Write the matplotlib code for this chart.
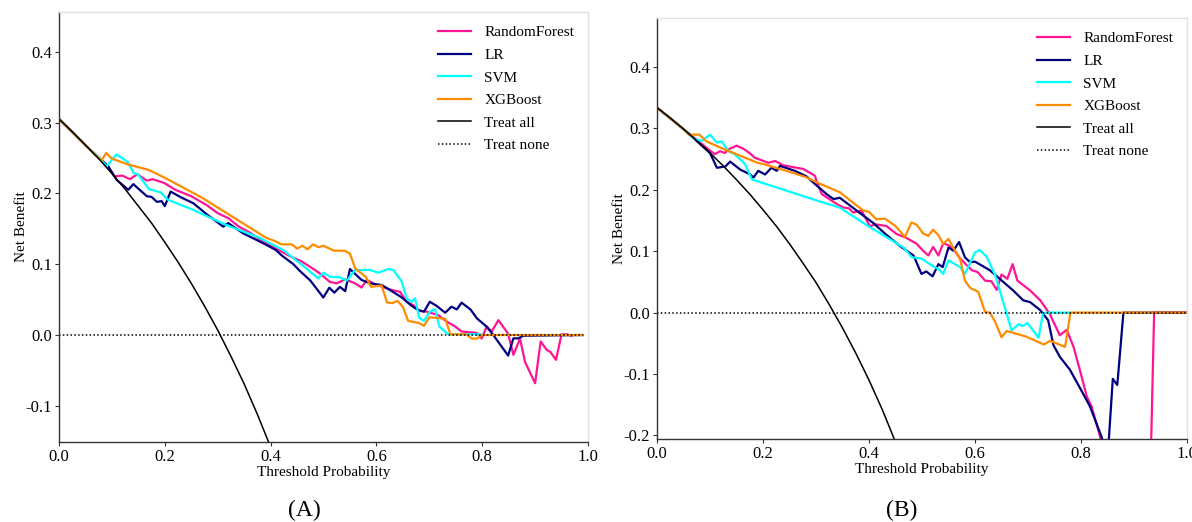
import matplotlib
matplotlib.use("Agg")
import matplotlib.pyplot as plt

plt.rcParams["font.family"] = ["Liberation Serif", "DejaVu Serif"]
plt.rcParams["axes.unicode_minus"] = False

# ---------------- Panel A ----------------
a_all_x = [0, 0.025, 0.05, 0.075, 0.1, 0.125, 0.15, 0.175, 0.2, 0.225, 0.25,
           0.275, 0.3, 0.325, 0.35, 0.375, 0.4]
a_all_y = [0.305, 0.287, 0.268, 0.249, 0.228, 0.206, 0.182, 0.158, 0.131, 0.103,
           0.073, 0.041, 0.007, -0.030, -0.069, -0.112, -0.158]

a_rf_x = [0, 0.05, 0.08, 0.093, 0.105, 0.12, 0.134, 0.148, 0.166, 0.177, 0.199,
          0.22, 0.25, 0.28, 0.30, 0.32, 0.34, 0.36, 0.38, 0.40, 0.42, 0.44, 0.456,
          0.4745, 0.493, 0.512, 0.525, 0.541, 0.5595, 0.572, 0.5816, 0.6006, 0.629,
          0.6446, 0.657, 0.670, 0.6824, 0.695, 0.717, 0.733, 0.749, 0.761, 0.790,
          0.799, 0.8085, 0.818, 0.8305, 0.849, 0.859, 0.8715, 0.881, 0.900, 0.9105,
          0.922, 0.929, 0.9395, 0.950, 0.96, 0.969]
a_rf_y = [0.305, 0.268, 0.247, 0.238, 0.224, 0.225, 0.220, 0.227, 0.218, 0.220,
          0.2146, 0.205, 0.196, 0.183, 0.172, 0.165, 0.153, 0.145, 0.135, 0.126,
          0.118, 0.110, 0.105, 0.0965, 0.087, 0.075, 0.073, 0.0786, 0.073, 0.067,
          0.0777, 0.0706, 0.0636, 0.061, 0.047, 0.042, 0.034, 0.033, 0.028, 0.019,
          0.012, 0.005, 0.003, -0.005, 0.012, 0.005, 0.021, 0.002, -0.028, -0.005,
          -0.038, -0.068, -0.009, -0.021, -0.024, -0.035, 0.001, 0.001, -0.001]

a_lr_x = [0, 0.05, 0.08, 0.093, 0.109, 0.131, 0.1405, 0.166, 0.175, 0.185, 0.194,
          0.200, 0.211, 0.229, 0.254, 0.28, 0.3106, 0.320, 0.348, 0.374, 0.39, 0.41,
          0.42, 0.443, 0.456, 0.475, 0.4997, 0.511, 0.5205, 0.531, 0.541, 0.550,
          0.572, 0.588, 0.610, 0.629, 0.648, 0.667, 0.679, 0.690, 0.701, 0.714,
          0.730, 0.742, 0.752, 0.761, 0.778, 0.790, 0.8085, 0.821, 0.849, 0.859,
          0.868, 0.878, 0.99]
a_lr_y = [0.305, 0.268, 0.247, 0.238, 0.219, 0.205, 0.213, 0.196, 0.195, 0.188,
          0.189, 0.182, 0.2025, 0.195, 0.186, 0.170, 0.153, 0.158, 0.1436, 0.134,
          0.128, 0.12, 0.113, 0.10, 0.09, 0.077, 0.053, 0.0668, 0.0598, 0.068,
          0.062, 0.0932, 0.0777, 0.073, 0.0706, 0.062, 0.053, 0.041, 0.0353, 0.033,
          0.047, 0.041, 0.0315, 0.040, 0.0362, 0.0457, 0.036, 0.0235, 0.0118, 0.0,
          -0.029, -0.0047, -0.0047, -0.001, 0.0]

a_svm_x = [0, 0.05, 0.08, 0.09, 0.1085, 0.125, 0.13, 0.141, 0.15, 0.17, 0.192,
           0.206, 0.254, 0.317, 0.374, 0.424, 0.456, 0.490, 0.4997, 0.512, 0.531,
           0.544, 0.5595, 0.588, 0.6036, 0.6225, 0.632, 0.648, 0.657, 0.667, 0.673,
           0.681, 0.690, 0.701, 0.711, 0.719, 0.736, 0.796]
a_svm_y = [0.305, 0.268, 0.247, 0.238, 0.255, 0.247, 0.244, 0.229, 0.226, 0.206,
           0.2014, 0.191, 0.1766, 0.155, 0.139, 0.12, 0.101, 0.080, 0.088, 0.0824,
           0.0815, 0.0767, 0.0918, 0.0918, 0.088, 0.0932, 0.0918, 0.0753, 0.0518,
           0.047, 0.052, 0.0245, 0.020, 0.033, 0.0367, 0.0118, 0.001, 0.001]

a_xgb_x = [0, 0.05, 0.08, 0.089, 0.10, 0.13, 0.17, 0.20, 0.23, 0.27, 0.30, 0.33,
           0.36, 0.39, 0.41, 0.42, 0.44, 0.45, 0.46, 0.47, 0.48, 0.49, 0.50, 0.52,
           0.54, 0.55, 0.56, 0.58, 0.59, 0.61, 0.62, 0.63, 0.64, 0.65, 0.66, 0.68,
           0.69, 0.70, 0.73, 0.74, 0.77, 0.78, 0.79, 0.80, 0.99]
a_xgb_y = [0.305, 0.268, 0.246, 0.257, 0.249, 0.241, 0.233, 0.222, 0.210, 0.194,
           0.180, 0.166, 0.152, 0.138, 0.132, 0.128, 0.128, 0.122, 0.126, 0.121,
           0.128, 0.124, 0.126, 0.119, 0.119, 0.115, 0.094, 0.082, 0.068, 0.070,
           0.046, 0.045, 0.048, 0.040, 0.020, 0.017, 0.013, 0.025, 0.023, 0.001,
           0.001, -0.005, -0.005, 0.0, 0.0]

a_none_x = [0, 0.99]
a_none_y = [0, 0]

# ---------------- Panel B ----------------
b_all_x = [0, 0.025, 0.05, 0.075, 0.1, 0.125, 0.15, 0.175, 0.2, 0.225, 0.25,
           0.275, 0.3, 0.325, 0.35, 0.375, 0.4, 0.425, 0.45]
b_all_y = [0.334, 0.317, 0.299, 0.280, 0.260, 0.239, 0.2165, 0.193, 0.1675, 0.141,
           0.112, 0.081, 0.049, 0.013, -0.025, -0.066, -0.110, -0.158, -0.211]

b_rf_x = [0, 0.05, 0.097, 0.109, 0.119, 0.128, 0.135, 0.150, 0.163, 0.176, 0.185,
          0.198, 0.210, 0.223, 0.238, 0.257, 0.276, 0.298, 0.301, 0.311, 0.339,
          0.352, 0.362, 0.370, 0.386, 0.402, 0.411, 0.433, 0.452, 0.470, 0.49,
          0.503, 0.512, 0.521, 0.531, 0.540, 0.549, 0.559, 0.572, 0.594, 0.605,
          0.619, 0.631, 0.641, 0.650, 0.661, 0.671, 0.680, 0.704, 0.723, 0.741,
          0.760, 0.773, 0.786, 0.798, 0.811, 0.820, 0.836, 0.85, 0.90, 0.93, 0.938,
          1.0]
b_rf_y = [0.334, 0.299, 0.266, 0.258, 0.263, 0.260, 0.266, 0.272, 0.267, 0.259,
          0.252, 0.248, 0.244, 0.247, 0.240, 0.237, 0.234, 0.223, 0.214, 0.193,
          0.177, 0.171, 0.170, 0.163, 0.166, 0.140, 0.144, 0.141, 0.128, 0.122,
          0.112, 0.100, 0.093, 0.107, 0.093, 0.113, 0.110, 0.104, 0.088, 0.069,
          0.066, 0.052, 0.051, 0.037, 0.062, 0.055, 0.079, 0.052, 0.036, 0.020,
          -0.002, -0.037, -0.028, -0.056, -0.094, -0.137, -0.153, -0.202, -0.25,
          -0.4, -0.3, 0.0, 0.0]

b_lr_x = [0, 0.05, 0.10, 0.113, 0.129, 0.138, 0.157, 0.176, 0.182, 0.191, 0.204,
          0.216, 0.226, 0.232, 0.26, 0.282, 0.30, 0.32, 0.333, 0.345, 0.377, 0.408,
          0.431, 0.459, 0.484, 0.499, 0.508, 0.520, 0.531, 0.539, 0.550, 0.559,
          0.570, 0.581, 0.591, 0.60, 0.628, 0.672, 0.691, 0.704, 0.723, 0.738,
          0.748, 0.760, 0.779, 0.795, 0.817, 0.839, 0.85, 0.86, 0.8685, 0.88, 1.0]
b_lr_y = [0.334, 0.299, 0.260, 0.236, 0.238, 0.246, 0.233, 0.225, 0.220, 0.231,
          0.225, 0.236, 0.231, 0.239, 0.231, 0.222, 0.208, 0.193, 0.185, 0.187,
          0.166, 0.146, 0.128, 0.108, 0.093, 0.063, 0.067, 0.059, 0.079, 0.074,
          0.106, 0.101, 0.115, 0.090, 0.082, 0.083, 0.069, 0.036, 0.020, 0.017,
          0.004, -0.0125, -0.053, -0.072, -0.093, -0.118, -0.153, -0.203, -0.24,
          -0.108, -0.118, 0.0, 0.0]

b_svm_x = [0, 0.05, 0.072, 0.085, 0.100, 0.113, 0.122, 0.135, 0.147, 0.166, 0.179,
           0.25, 0.30, 0.345, 0.402, 0.433, 0.465, 0.481, 0.499, 0.518, 0.531,
           0.540, 0.550, 0.572, 0.581, 0.600, 0.609, 0.622, 0.638, 0.654, 0.669,
           0.682, 0.690, 0.699, 0.720, 0.728, 0.733, 0.778]
b_svm_y = [0.334, 0.299, 0.282, 0.280, 0.290, 0.277, 0.279, 0.263, 0.258, 0.242,
           0.217, 0.197, 0.183, 0.171, 0.139, 0.123, 0.106, 0.090, 0.088, 0.077,
           0.071, 0.063, 0.085, 0.074, 0.063, 0.098, 0.102, 0.091, 0.061, 0.015,
           -0.029, -0.019, -0.022, -0.017, -0.041, -0.002, 0.0, 0.0]

b_xgb_x = [0, 0.05, 0.06, 0.08, 0.093, 0.13, 0.19, 0.205, 0.244, 0.28, 0.31, 0.345,
           0.373, 0.388, 0.40, 0.414, 0.43, 0.45, 0.468, 0.48, 0.49, 0.502, 0.512,
           0.521, 0.531, 0.54, 0.55, 0.562, 0.572, 0.581, 0.591, 0.606, 0.619,
           0.628, 0.638, 0.65, 0.66, 0.696, 0.73, 0.742, 0.77, 0.78, 1.0]
b_xgb_y = [0.334, 0.299, 0.290, 0.290, 0.279, 0.265, 0.244, 0.241, 0.231, 0.221,
           0.209, 0.196, 0.177, 0.167, 0.164, 0.152, 0.153, 0.141, 0.123, 0.147,
           0.143, 0.129, 0.125, 0.135, 0.126, 0.112, 0.120, 0.101, 0.087, 0.052,
           0.040, 0.034, 0.001, 0.0, -0.015, -0.040, -0.030, -0.039, -0.052, -0.046,
           -0.056, 0.0, 0.0]

b_none_x = [0, 1.0]
b_none_y = [0, 0]

model_names = ["RandomForest", "LR", "SVM", "XGBoost"]
model_colors = ["#ff1493", "#000080", "#00ffff", "#ff8c00"]


def draw_panel(ax, models, all_xy, none_xy, ylim, yticks, tag, tag_x):
    for (xs, ys), name, col in zip(models, model_names, model_colors):
        ax.plot(xs, ys, color=col, linewidth=1.6, label=name)
    ax.plot(*all_xy, color="black", linewidth=1.1, label="Treat all")
    ax.plot(*none_xy, color="black", linewidth=1.1, linestyle=(0, (1, 1.5)),
            label="Treat none")
    ax.set_xlim(0, 1)
    ax.set_ylim(*ylim)
    ax.set_xticks([0.0, 0.2, 0.4, 0.6, 0.8, 1.0])
    ax.set_yticks(yticks)
    ax.xaxis.set_major_formatter(matplotlib.ticker.FormatStrFormatter("%.1f"))
    ax.yaxis.set_major_formatter(matplotlib.ticker.FormatStrFormatter("%.1f"))
    ax.tick_params(labelsize=12, length=3, width=0.8, color="#333333", pad=2)
    for s in ("left", "bottom"):
        ax.spines[s].set_color("#333333")
        ax.spines[s].set_linewidth(1.0)
    for s in ("top", "right"):
        ax.spines[s].set_color("#e2e2e2")
        ax.spines[s].set_linewidth(1.0)
    ax.set_xlabel("Threshold Probability", fontsize=11, labelpad=1)
    ax.set_ylabel("Net Benefit", fontsize=11, labelpad=-2)
    ax.legend(loc="upper right", frameon=False, fontsize=11, handlelength=2.2,
              handletextpad=0.85, labelspacing=0.58, borderaxespad=0.5)
    fig.text(tag_x, 1 - 510 / 522, tag, fontsize=17, ha="center", va="center")


fig = plt.figure(figsize=(11.92, 5.22), dpi=100)
ax_a = fig.add_axes([59 / 1192, 1 - 442 / 522, 529 / 1192, 430 / 522])
ax_b = fig.add_axes([657 / 1192, 1 - 439 / 522, 530 / 1192, 421 / 522])

draw_panel(ax_a,
           [(a_rf_x, a_rf_y), (a_lr_x, a_lr_y), (a_svm_x, a_svm_y), (a_xgb_x, a_xgb_y)],
           (a_all_x, a_all_y), (a_none_x, a_none_y),
           (-0.151, 0.456), [-0.1, 0.0, 0.1, 0.2, 0.3, 0.4], "(A)", 304 / 1192)
draw_panel(ax_b,
           [(b_rf_x, b_rf_y), (b_lr_x, b_lr_y), (b_svm_x, b_svm_y), (b_xgb_x, b_xgb_y)],
           (b_all_x, b_all_y), (b_none_x, b_none_y),
           (-0.206, 0.48), [-0.2, -0.1, 0.0, 0.1, 0.2, 0.3, 0.4], "(B)", 902 / 1192)

fig.savefig("out.png", dpi=100)
